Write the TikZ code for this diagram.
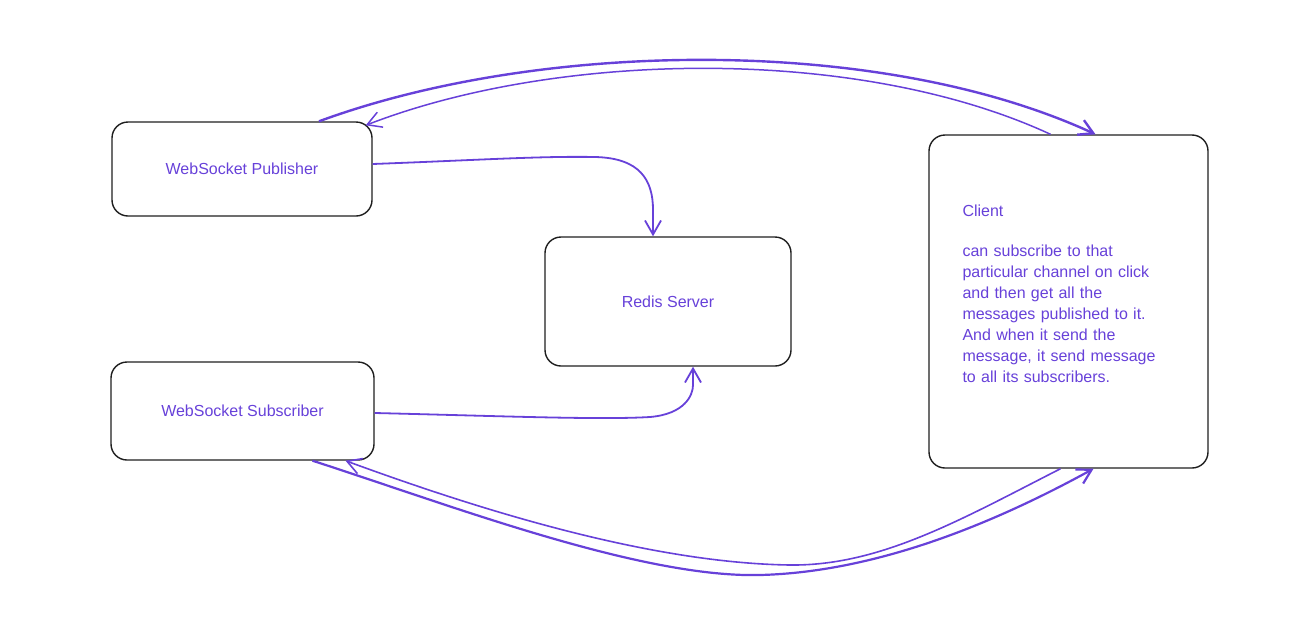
\documentclass[tikz,border=0pt]{standalone}
\usepackage{fontspec}
\setmainfont{Liberation Sans}
\usetikzlibrary{arrows.meta}
\definecolor{inkblack}{HTML}{1E1E1E}
\definecolor{inkviolet}{HTML}{6741D9}
\tikzstyle{block}=[draw=inkblack, line width=1.4pt, rounded corners=16pt, text=inkviolet, font=\fontsize{16}{21}\selectfont]
\tikzstyle{flow}=[draw=inkviolet, line width=1.8pt, -{Straight Barb[length=14pt,width=16pt]}]

\begin{document}
\begin{tikzpicture}[x=1pt, y=-1pt]
  \useasboundingbox (0,0) rectangle (1305,632);
  \node[block, minimum width=260pt, minimum height=94pt] (publisher) at (242,169) {WebSocket Publisher};
  \node[block, minimum width=246pt, minimum height=129pt] (redis) at (668,301.5) {Redis Server};
  \node[block, minimum width=263pt, minimum height=98pt] (subscriber) at (242.5,411) {WebSocket Subscriber};
  \node[block, minimum width=279pt, minimum height=333pt, text width=212pt, align=left] (client) at (1068.5,301.5)
    {Client\\[19pt]can subscribe to that\\particular channel on click\\and then get all the\\messages published to it.\\And when it send the\\message, it send message\\to all its subscribers.\\[-5pt]\mbox{}};

  % publisher and subscriber to redis
  \draw[flow] ([yshift=5pt]publisher.east)
    .. controls (480,160) and (540,156) .. (595,157)
    .. controls (640,158) and (653,180) .. (653,210)
    -- ([xshift=-15pt]redis.north);
  \draw[flow] ([yshift=-2pt]subscriber.east)
    .. controls (500,416) and (600,420) .. (650,417)
    .. controls (685,414) and (693,395) .. (693,385)
    -- ([xshift=25pt]redis.south);

  % publisher and client
  \draw[flow, line width=2.4pt] ([xshift=77pt]publisher.north)
    .. controls (540,40) and (880,35) .. ([xshift=27pt]client.north);
  \draw[flow, line width=1.5pt] ([xshift=-18pt]client.north)
    .. controls (860,46) and (560,50) .. ([xshift=-7pt,yshift=-4pt]publisher.north east);

  % subscriber and client
  \draw[flow, line width=2.2pt] ([xshift=70pt]subscriber.south)
    .. controls (450,505) and (640,578) .. (760,575)
    .. controls (880,572) and (1000,520) .. ([xshift=25pt]client.south);
  \draw[flow, line width=1.6pt] ([xshift=-8pt]client.south)
    .. controls (960,520) and (880,566) .. (790,565)
    .. controls (650,563) and (480,510) .. ([xshift=103pt]subscriber.south);
\end{tikzpicture}
\end{document}
